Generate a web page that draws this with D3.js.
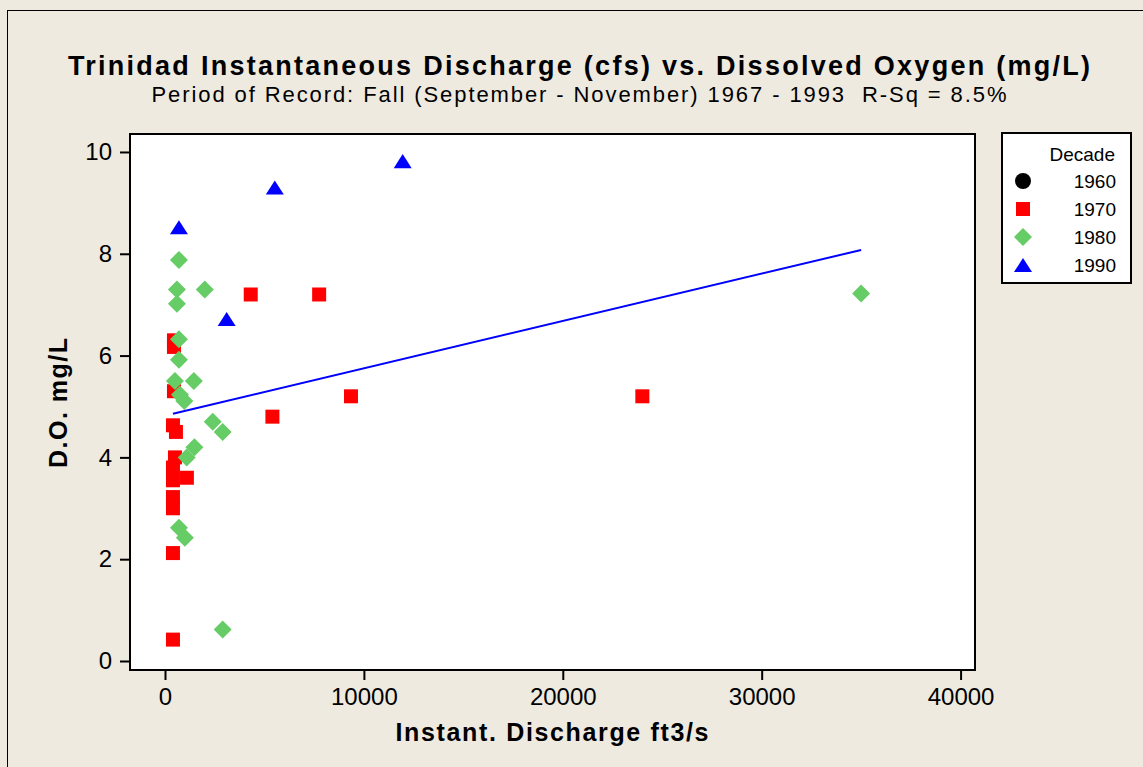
<!DOCTYPE html>
<html><head><meta charset="utf-8">
<script src="https://cdn.jsdelivr.net/npm/d3@7"></script>
<style>
html,body{margin:0;padding:0;background:#EEEAE0;}
svg{display:block;font-family:"Liberation Sans",Arial,sans-serif;}
</style></head>
<body>
<svg id="chart" width="1143" height="767"></svg>
<script>
// ---- data ----
const titleText = "Trinidad Instantaneous Discharge (cfs) vs. Dissolved Oxygen (mg/L)";
const subtitleText = "Period of Record: Fall (September - November) 1967 - 1993  R-Sq = 8.5%";
const xLabel = "Instant. Discharge ft3/s";
const yLabel = "D.O. mg/L";
const legendTitle = "Decade";
const decades = ["1960", "1970", "1980", "1990"];
const xTicks = [0, 10000, 20000, 30000, 40000];
const yTicks = [0, 2, 4, 6, 8, 10];

const q1970 = [4310, 7750, 9350, 24000, 5400, 450, 450, 450, 400, 550, 500, 400, 1100, 400, 400, 400, 400, 400];
const do1970 = [7.2, 7.2, 5.2, 5.2, 4.8, 6.3, 6.17, 5.3, 4.63, 4.5, 4.0, 3.8, 3.6, 3.55, 3.22, 3.0, 2.12, 0.42];
const q1980 = [700, 600, 2000, 600, 700, 700, 500, 1450, 750, 970, 2400, 2900, 1480, 1090, 700, 1000, 2900, 35000];
const do1980 = [7.88, 7.3, 7.3, 7.02, 6.32, 5.92, 5.5, 5.5, 5.23, 5.11, 4.7, 4.5, 4.2, 4.0, 2.62, 2.42, 0.62, 7.22];
const q1990 = [700, 5520, 11950, 3100];
const do1990 = [8.52, 9.3, 9.82, 6.72];
const fitIntercept = 4.82;
const fitSlope = 0.0000930;

// ---- layout ----
const svg = d3.select("#chart");
const L = 130, R = 975, T = 134, B = 670;
const x = d3.scaleLinear().domain([-1760, 40725]).range([L, R]);
const y = d3.scaleLinear().domain([-0.177, 10.353]).range([B, T]);

// outer frame
svg.append("rect").attr("x", 7.5).attr("y", 10.5).attr("width", 1300).attr("height", 900)
  .attr("fill", "#EEEAE0").attr("stroke", "#000").attr("stroke-width", 1);

// plot area
svg.append("rect").attr("x", L).attr("y", T).attr("width", R - L).attr("height", B - T)
  .attr("fill", "#fff").attr("stroke", "none");

// titles
svg.append("text").attr("x", 579).attr("y", 75).attr("text-anchor", "middle")
  .attr("font-size", 27).attr("font-weight", "bold").attr("fill", "#000")
  .attr("textLength", 1022).attr("lengthAdjust", "spacing").text(titleText);
svg.append("text").attr("x", 579).attr("y", 102).attr("text-anchor", "middle")
  .attr("font-size", 22).attr("fill", "#000").style("white-space", "pre")
  .attr("textLength", 855).attr("lengthAdjust", "spacing").text(subtitleText);

// axes
const xAxis = d3.axisBottom(x).tickValues(xTicks).tickSize(10).tickPadding(8).tickFormat(d3.format("d"));
const yAxis = d3.axisLeft(y).tickValues(yTicks).tickSize(10).tickPadding(8).tickFormat(d3.format("d"));
const gx = svg.append("g").attr("transform", `translate(0,${B})`).call(xAxis);
const gy = svg.append("g").attr("transform", `translate(${L},0)`).call(yAxis);
[gx, gy].forEach(g => {
  g.select(".domain").remove();
  g.selectAll(".tick line").attr("stroke", "#000").attr("stroke-width", 2);
  g.selectAll(".tick text").attr("font-size", 24).attr("fill", "#000")
    .attr("font-family", "Liberation Sans, Arial, sans-serif");
});

// markers
const sqType = { draw(ctx, s) { const h = Math.sqrt(s) / 2; ctx.rect(-h, -h, 2 * h, 2 * h); } };
const diaType = { draw(ctx, s) { const r = Math.sqrt(s) / 2; ctx.moveTo(0, -r); ctx.lineTo(r, 0); ctx.lineTo(0, r); ctx.lineTo(-r, 0); ctx.closePath(); } };
const triType = { draw(ctx, s) { const w = Math.sqrt(s) / 2; const h = w * 0.78; ctx.moveTo(0, -h); ctx.lineTo(w, h); ctx.lineTo(-w, h); ctx.closePath(); } };
const circType = { draw(ctx, s) { const r = Math.sqrt(s) / 2; ctx.moveTo(r, 0); ctx.arc(0, 0, r, 0, 2 * Math.PI); } };

const groups = [
  { q: q1970, v: do1970, type: sqType, size: 14 * 14, color: "#FF0000" },
  { q: q1980, v: do1980, type: diaType, size: 18 * 18, color: "#66CC66" },
  { q: q1990, v: do1990, type: triType, size: 18 * 18, color: "#0000FF" }
];
const plot = svg.append("g");
groups.forEach(g => {
  plot.selectAll(null).data(g.q.map((d, i) => [d, g.v[i]])).enter().append("path")
    .attr("transform", d => `translate(${x(d[0])},${y(d[1])})`)
    .attr("d", d3.symbol().type(g.type).size(g.size))
    .attr("fill", g.color);
});

// regression line
const allQ = q1970.concat(q1980, q1990);
const qMin = d3.min(allQ), qMax = d3.max(allQ);
svg.append("line")
  .attr("x1", x(qMin)).attr("y1", y(fitIntercept + fitSlope * qMin))
  .attr("x2", x(qMax)).attr("y2", y(fitIntercept + fitSlope * qMax))
  .attr("stroke", "#0000FF").attr("stroke-width", 2);

// plot border
svg.append("rect").attr("x", L).attr("y", T).attr("width", R - L).attr("height", B - T)
  .attr("fill", "none").attr("stroke", "#000").attr("stroke-width", 2);

// axis labels
svg.append("text").attr("x", 552).attr("y", 741).attr("text-anchor", "middle")
  .attr("font-size", 25).attr("font-weight", "bold").attr("fill", "#000")
  .attr("textLength", 313).attr("lengthAdjust", "spacing").text(xLabel);
svg.append("text").attr("transform", "translate(67,403) rotate(-90)").attr("text-anchor", "middle")
  .attr("font-size", 25).attr("font-weight", "bold").attr("fill", "#000")
  .attr("textLength", 130).attr("lengthAdjust", "spacing").text(yLabel);

// legend
const lg = svg.append("g");
lg.append("rect").attr("x", 1002).attr("y", 133).attr("width", 129).attr("height", 150)
  .attr("fill", "#fff").attr("stroke", "#000").attr("stroke-width", 2);
lg.append("text").attr("x", 1115).attr("y", 161).attr("text-anchor", "end")
  .attr("font-size", 19).attr("fill", "#000").text(legendTitle);
const legTypes = [
  { type: circType, size: 16 * 16, color: "#000000" },
  { type: sqType, size: 14 * 14, color: "#FF0000" },
  { type: diaType, size: 18 * 18, color: "#66CC66" },
  { type: triType, size: 18 * 18, color: "#0000FF" }
];
const legY = d3.scalePoint().domain(decades).range([181, 265]);
decades.forEach((d, i) => {
  lg.append("path").attr("transform", `translate(1023,${legY(d)})`)
    .attr("d", d3.symbol().type(legTypes[i].type).size(legTypes[i].size))
    .attr("fill", legTypes[i].color);
  lg.append("text").attr("x", 1116).attr("y", legY(d) + 7).attr("text-anchor", "end")
    .attr("font-size", 19).attr("fill", "#000").text(d);
});
</script>
</body></html>
